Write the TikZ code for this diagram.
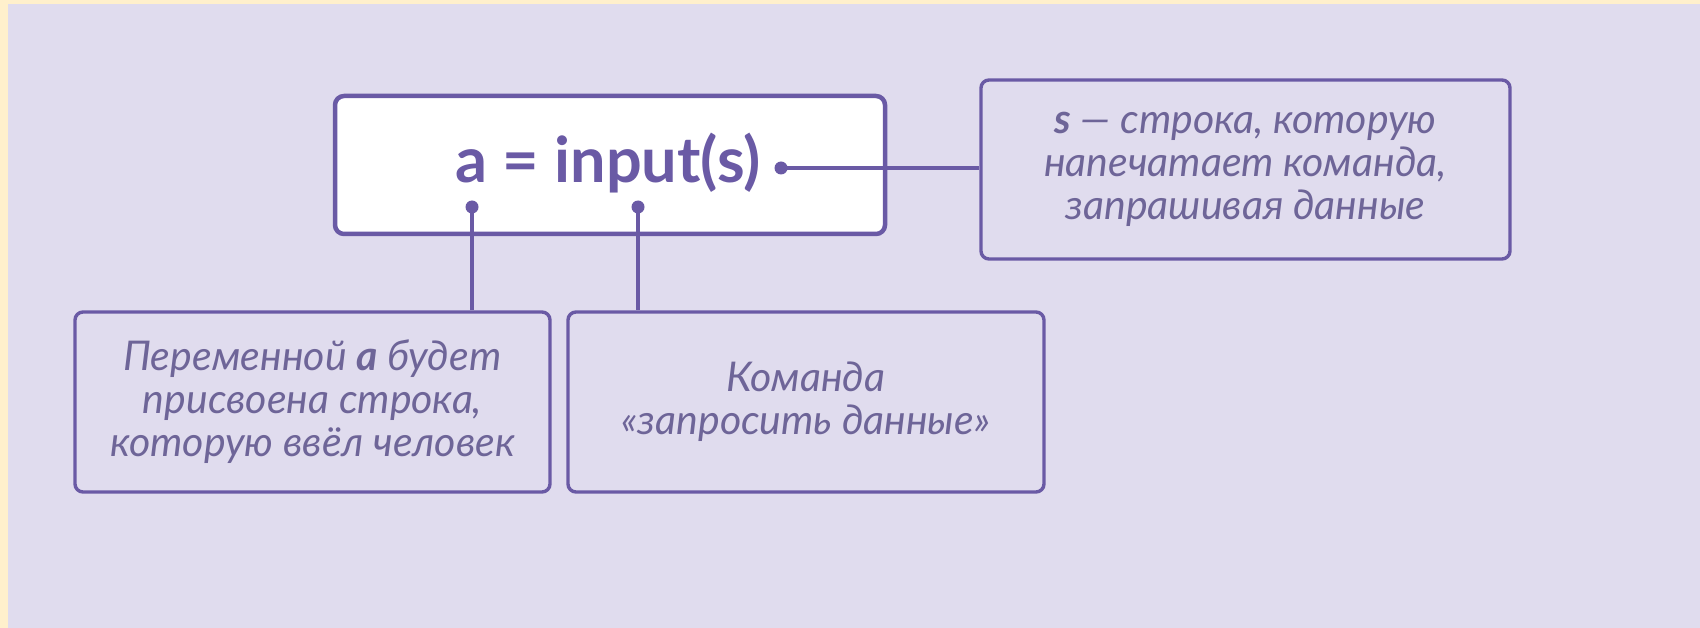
\documentclass[tikz,border=0pt]{standalone}
\usepackage{fontspec}
\setmainfont{Lato}
\definecolor{bgl}{HTML}{E0DCEE}
\definecolor{bgy}{HTML}{FFF0CC}
\definecolor{pur}{HTML}{6A5AA5}
\definecolor{txt}{HTML}{6E6598}
\begin{document}
\begin{tikzpicture}[x=1pt,y=-1pt,
  note/.style={draw=pur, line width=3.4pt, rounded corners=8pt, align=center, inner sep=0pt,
     text=txt, font=\fontsize{41}{43}\selectfont\itshape},
  conn/.style={draw=pur, line width=3.4pt},
  pin/.style={fill=pur}]
\fill[bgy] (0,0) rectangle (1700,628);
\fill[bgl] (8,4) rectangle (1700,628);
\useasboundingbox (0,0) rectangle (1700,628);
% main box
\node[draw=pur, fill=white, line width=4.5pt, rounded corners=9pt, minimum width=550pt, minimum height=138pt, inner sep=0pt] (main) at (610,165) {};
\node[text=pur, font=\fontsize{63}{70}\selectfont\bfseries, inner sep=0pt] (code) at (608,163) {a = input(s)};
% notes
\node[note, minimum width=529pt, minimum height=179pt] (right) at (1245.5,169.5)
  {{\bfseries s} --- строка, которую\\напечатает команда,\\запрашивая данные};
\node[note, minimum width=475pt, minimum height=180pt] (left) at (312.5,402)
  {Переменной {\bfseries a} будет\\присвоена строка,\\которую ввёл человек};
\node[note, minimum width=476pt, minimum height=180pt] (mid) at (806,402)
  {Команда\\«запросить данные»};
% pins
\coordinate (ps) at (781,168);
\coordinate (pa) at (472,207);
\coordinate (pi) at (638,207);
\draw[conn] (ps) -- (ps -| right.west);
\draw[conn] (pa) -- (pa |- left.north);
\draw[conn] (pi) -- (pi |- mid.north);
\fill[pin] (ps) circle (6.5pt);
\fill[pin] (pa) circle (6.5pt);
\fill[pin] (pi) circle (6.5pt);
\end{tikzpicture}
\end{document}
